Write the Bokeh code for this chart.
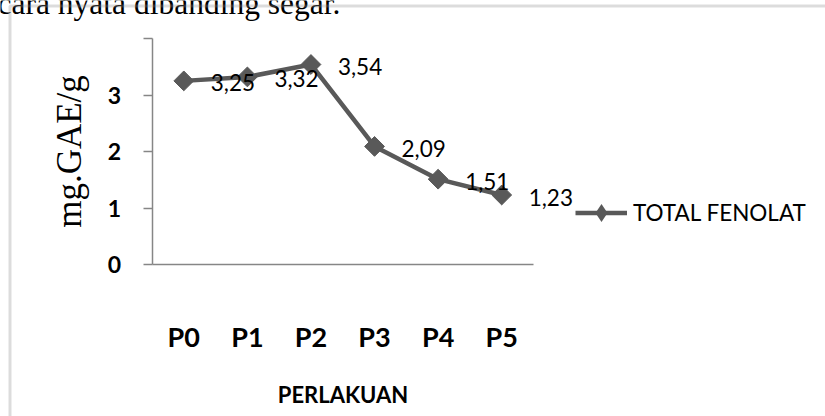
import numpy as np
from bokeh.plotting import figure
from bokeh.models import (ColumnDataSource, Range1d, FixedTicker,
                          LabelSet, Label, BoxAnnotation, Legend, LegendItem)
from bokeh.core.properties import value
from bokeh.embed import file_html
from bokeh.resources import INLINE

# ---- data ----
categories = ["P0", "P1", "P2", "P3", "P4", "P5"]
values = [3.25, 3.32, 3.54, 2.09, 1.51, 1.23]
value_labels = ["3,25", "3,32", "3,54", "2,09", "1,51", "1,23"]
y_ticks = [0, 1, 2, 3, 4]
series_name = "TOTAL FENOLAT"
x_title = "PERLAKUAN"
y_title = "mg.GAE/g"
page_text = "cara nyata dibanding segar."

LINE = "#595959"
AXIS = "#868686"
FRAME = "#8c8c8c"

W, H = 825, 416
# plot-area placement (pixels) of the category band 0..N and value range 0..4
PX0, PX1 = 151.5, 533.0
PY0, PY1 = 264.0, 38.0   # y pixel of value 0 and value 4
n = len(categories)
kx = (PX1 - PX0) / n
ky = (PY0 - PY1) / 4.0

xpos = [i + 0.5 for i in range(n)]  # category centres
src = ColumnDataSource(dict(x=xpos, y=values, lab=value_labels))

p = figure(width=W, height=H, output_backend="svg", toolbar_location=None,
           x_range=Range1d(-PX0 / kx, (W - PX0) / kx),
           y_range=Range1d(-(H - PY0) / ky, 4 + PY1 / ky),
           min_border=0, min_border_left=0, min_border_right=0,
           min_border_top=0, min_border_bottom=0)
p.outline_line_color = None
p.xgrid.visible = False
p.ygrid.visible = False
p.background_fill_color = "white"
p.border_fill_color = "white"

# page text (part of the surrounding document, cut by the crop)
p.add_layout(Label(x=-3, y=H - 3, x_units="screen", y_units="screen",
                   text=page_text, text_font="Liberation Serif",
                   text_font_size="31.5px", text_color="black",
                   text_align="left", text_baseline="alphabetic"))

# chart border
p.add_layout(BoxAnnotation(left=9.5, right=W + 20, top=H - 5.5, bottom=-20,
                           left_units="screen", right_units="screen",
                           top_units="screen", bottom_units="screen",
                           fill_alpha=0, line_color=FRAME, line_width=3))

# series
line_r = p.line("x", "y", source=src, line_color=LINE, line_width=4.5)
p.scatter("x", "y", source=src, marker="square", angle=np.pi / 4, size=14,
          fill_color=LINE, line_color=LINE)
# diamond used for the legend entry (zero size on the plot itself)
leg_r = p.scatter("x", "y", source=src, marker="diamond", size=0,
                  fill_color=LINE, line_color=None)

p.add_layout(LabelSet(x="x", y="y", text="lab", source=src,
                      x_offset=27, y_offset=-2,
                      text_font=value("Lato"), text_font_size="22.5px",
                      text_color="black", text_align="left",
                      text_baseline="middle"))

# y axis
ya = p.yaxis[0]
ya.fixed_location = 0
ya.bounds = (0, 4)
ya.ticker = FixedTicker(ticks=y_ticks)
ya.major_label_overrides = {4: ""}
ya.minor_tick_line_color = None
ya.major_tick_in = 0
ya.major_tick_out = 9
ya.axis_line_color = AXIS
ya.axis_line_width = 1.5
ya.major_tick_line_color = AXIS
ya.major_tick_line_width = 1.5
ya.major_label_text_font = "Lato"
ya.major_label_text_font_style = "bold"
ya.major_label_text_font_size = "23px"
ya.major_label_text_color = "black"
ya.major_label_standoff = 22
ya.axis_label = y_title
ya.axis_label_text_font = "Liberation Serif"
ya.axis_label_text_font_style = "normal"
ya.axis_label_text_font_size = "35px"
ya.axis_label_text_color = "black"
ya.axis_label_standoff = 16

# x axis
xa = p.xaxis[0]
xa.fixed_location = 0
xa.bounds = (0, n)
xa.ticker = FixedTicker(ticks=xpos)
xa.major_label_overrides = {xv: c for xv, c in zip(xpos, categories)}
xa.major_tick_line_color = None
xa.major_tick_out = 0
xa.major_tick_in = 0
xa.minor_tick_line_color = None
xa.axis_line_color = AXIS
xa.axis_line_width = 1.5
xa.major_label_text_font = "Lato"
xa.major_label_text_font_style = "bold"
xa.major_label_text_font_size = "27px"
xa.major_label_text_color = "black"
xa.major_label_standoff = 55
xa.axis_label = x_title
xa.axis_label_text_font = "Lato"
xa.axis_label_text_font_style = "bold"
xa.axis_label_text_font_size = "22px"
xa.axis_label_text_color = "black"
xa.axis_label_standoff = 25

# legend
GH = 45
lg = Legend(items=[LegendItem(label=series_name, renderers=[line_r, leg_r])],
            location=(575, H - 212 - GH / 2))
lg.padding = 0
lg.margin = 0
lg.spacing = 0
lg.border_line_alpha = 0
lg.background_fill_alpha = 0
lg.glyph_width = 52
lg.glyph_height = GH
lg.label_height = 27
lg.label_standoff = 6
lg.label_text_font = "Lato"
lg.label_text_font_size = "22.5px"
lg.label_text_color = "black"
p.add_layout(lg)

open("out.html", "w").write(file_html(p, INLINE))
